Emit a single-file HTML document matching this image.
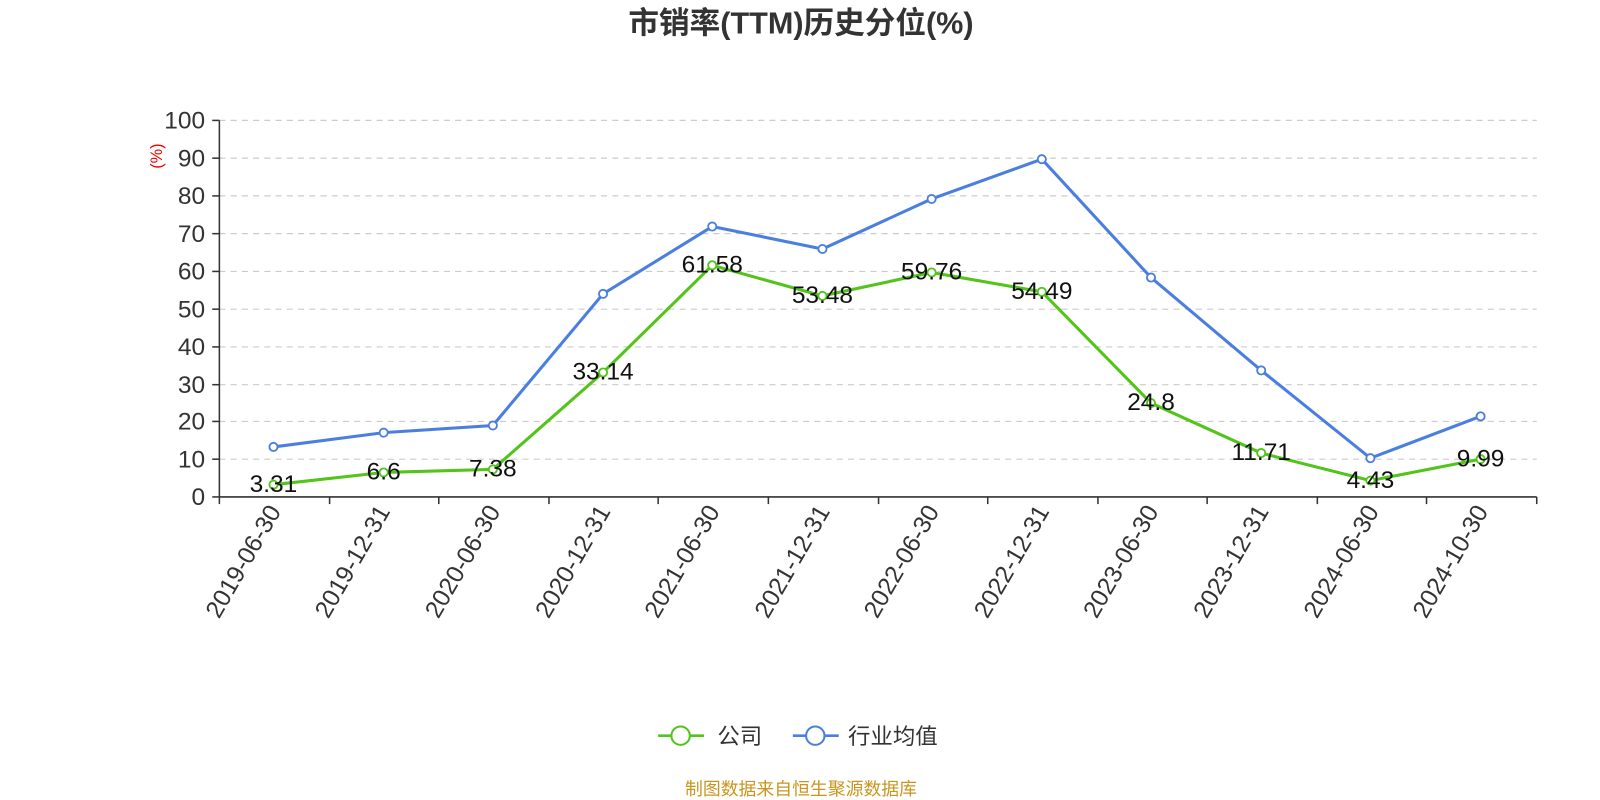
<!DOCTYPE html>
<html><head><meta charset="utf-8"><style>
body{margin:0;background:#fff;}
svg{display:block;font-family:"Liberation Sans","Noto Sans CJK SC",sans-serif;}
</style></head><body>
<svg width="1600" height="800" viewBox="0 0 1600 800" xmlns="http://www.w3.org/2000/svg">
<g transform="scale(1.0204)">
<text x="785" y="33" text-anchor="middle" font-size="30" font-weight="bold" fill="#333">市销率(TTM)历史分位(%)</text>
<g stroke="#ccc" stroke-dasharray="6,5" stroke-width="1.2">
<line x1="215" x2="1506" y1="118" y2="118"/><line x1="215" x2="1506" y1="155" y2="155"/>
<line x1="215" x2="1506" y1="192" y2="192"/><line x1="215" x2="1506" y1="229" y2="229"/>
<line x1="215" x2="1506" y1="266" y2="266"/><line x1="215" x2="1506" y1="303" y2="303"/>
<line x1="215" x2="1506" y1="340" y2="340"/><line x1="215" x2="1506" y1="377" y2="377"/>
<line x1="215" x2="1506" y1="413" y2="413"/><line x1="215" x2="1506" y1="450" y2="450"/>
</g>
<g stroke="#333" stroke-width="1.5">
<line x1="215" y1="118" x2="215" y2="487"/><line x1="215" y1="487" x2="1506" y2="487"/>
<line x1="208" x2="215" y1="118" y2="118"/><line x1="208" x2="215" y1="155" y2="155"/><line x1="208" x2="215" y1="192" y2="192"/><line x1="208" x2="215" y1="229" y2="229"/><line x1="208" x2="215" y1="266" y2="266"/><line x1="208" x2="215" y1="303" y2="303"/><line x1="208" x2="215" y1="340" y2="340"/><line x1="208" x2="215" y1="377" y2="377"/><line x1="208" x2="215" y1="413" y2="413"/><line x1="208" x2="215" y1="450" y2="450"/><line x1="208" x2="215" y1="487" y2="487"/>
<line x1="215" x2="215" y1="487" y2="494"/><line x1="323" x2="323" y1="487" y2="494"/><line x1="430" x2="430" y1="487" y2="494"/><line x1="538" x2="538" y1="487" y2="494"/><line x1="645" x2="645" y1="487" y2="494"/><line x1="753" x2="753" y1="487" y2="494"/><line x1="861" x2="861" y1="487" y2="494"/><line x1="968" x2="968" y1="487" y2="494"/><line x1="1076" x2="1076" y1="487" y2="494"/><line x1="1183" x2="1183" y1="487" y2="494"/><line x1="1291" x2="1291" y1="487" y2="494"/><line x1="1398" x2="1398" y1="487" y2="494"/><line x1="1506" x2="1506" y1="487" y2="494"/>
</g>
<g font-size="24" fill="#333" text-anchor="end">
<text x="201" y="126">100</text><text x="201" y="163">90</text><text x="201" y="200">80</text><text x="201" y="237">70</text><text x="201" y="274">60</text><text x="201" y="311">50</text><text x="201" y="348">40</text><text x="201" y="385">30</text><text x="201" y="421">20</text><text x="201" y="458">10</text><text x="201" y="495">0</text>
</g>
<text transform="translate(159,153) rotate(-90)" text-anchor="middle" font-size="16" fill="#e00">(%)</text>
<g font-size="24" fill="#333" text-anchor="end">
<text transform="translate(276,501) rotate(-60)">2019-06-30</text>
<text transform="translate(383,501) rotate(-60)">2019-12-31</text>
<text transform="translate(491,501) rotate(-60)">2020-06-30</text>
<text transform="translate(599,501) rotate(-60)">2020-12-31</text>
<text transform="translate(706,501) rotate(-60)">2021-06-30</text>
<text transform="translate(814,501) rotate(-60)">2021-12-31</text>
<text transform="translate(921,501) rotate(-60)">2022-06-30</text>
<text transform="translate(1029,501) rotate(-60)">2022-12-31</text>
<text transform="translate(1136,501) rotate(-60)">2023-06-30</text>
<text transform="translate(1244,501) rotate(-60)">2023-12-31</text>
<text transform="translate(1352,501) rotate(-60)">2024-06-30</text>
<text transform="translate(1459,501) rotate(-60)">2024-10-30</text>
</g>
<polyline fill="none" stroke="#4a7fe0" stroke-width="3" points="268,438 376,424 483,417 591,288 698,222 806,244 913,195 1021,156 1128,272 1236,363 1343,449 1451,408"/>
<g fill="#fff" stroke="#4a7fe0" stroke-width="1.8">
<circle cx="268" cy="438" r="4"/><circle cx="376" cy="424" r="4"/><circle cx="483" cy="417" r="4"/><circle cx="591" cy="288" r="4"/><circle cx="698" cy="222" r="4"/><circle cx="806" cy="244" r="4"/><circle cx="913" cy="195" r="4"/><circle cx="1021" cy="156" r="4"/><circle cx="1128" cy="272" r="4"/><circle cx="1236" cy="363" r="4"/><circle cx="1343" cy="449" r="4"/><circle cx="1451" cy="408" r="4"/>
</g>
<polyline fill="none" stroke="#52c41a" stroke-width="3" points="268,475 376,463 483,460 591,365 698,260 806,290 913,267 1021,286 1128,395 1236,444 1343,471 1451,450"/>
<g fill="#fff" stroke="#52c41a" stroke-width="1.8">
<circle cx="268" cy="475" r="4"/><circle cx="376" cy="463" r="4"/><circle cx="483" cy="460" r="4"/><circle cx="591" cy="365" r="4"/><circle cx="698" cy="260" r="4"/><circle cx="806" cy="290" r="4"/><circle cx="913" cy="267" r="4"/><circle cx="1021" cy="286" r="4"/><circle cx="1128" cy="395" r="4"/><circle cx="1236" cy="444" r="4"/><circle cx="1343" cy="471" r="4"/><circle cx="1451" cy="450" r="4"/>
</g>
<g font-size="24" fill="#111" text-anchor="middle">
<text x="268" y="482">3.31</text><text x="376" y="470">6.6</text><text x="483" y="467">7.38</text><text x="591" y="372">33.14</text><text x="698" y="267">61.58</text><text x="806" y="297">53.48</text><text x="913" y="274">59.76</text><text x="1021" y="293">54.49</text><text x="1128" y="402">24.8</text><text x="1236" y="451">11.71</text><text x="1343" y="478">4.43</text><text x="1451" y="457">9.99</text>
</g>
<line x1="645" x2="690" y1="721" y2="721" stroke="#52c41a" stroke-width="2.5"/>
<circle cx="667" cy="721" r="9" fill="#fff" stroke="#52c41a" stroke-width="2"/>
<text x="703" y="729" font-size="22" fill="#333">公司</text>
<line x1="777" x2="822" y1="721" y2="721" stroke="#4a7fe0" stroke-width="2.5"/>
<circle cx="799" cy="721" r="9" fill="#fff" stroke="#4a7fe0" stroke-width="2"/>
<text x="831" y="729" font-size="22" fill="#333">行业均值</text>
<text x="785" y="779" text-anchor="middle" font-size="17.5" fill="#c8961e">制图数据来自恒生聚源数据库</text>
</g>
</svg>
</body></html>
